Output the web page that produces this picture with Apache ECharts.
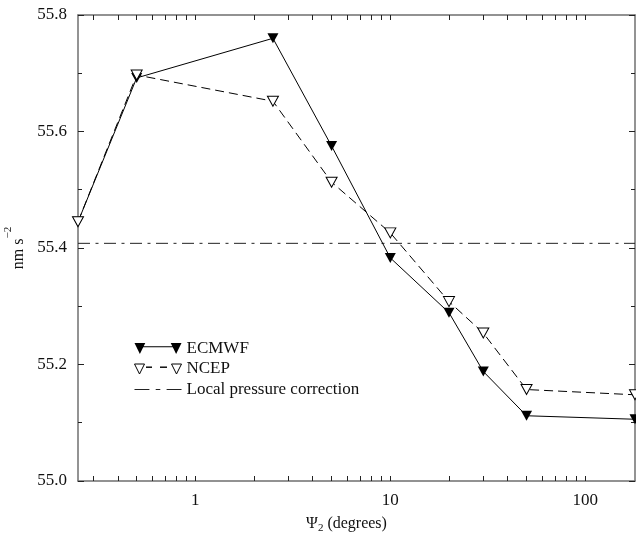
<!DOCTYPE html>
<html>
<head>
<meta charset="utf-8">
<script src="https://cdn.jsdelivr.net/npm/echarts@6/dist/echarts.min.js"></script>
<style>
  html, body { margin: 0; padding: 0; background: #fff; }
  #chart { width: 636px; height: 533px; }
</style>
</head>
<body>
<div id="chart"></div>
<script>
// angular distance (degrees) and the two reanalysis series, nm s^-2
const psi = [0.25, 0.5, 2.5, 5, 10, 20, 30, 50, 180];
const ecmwf = [55.445, 55.692, 55.760, 55.575, 55.383, 55.289, 55.188, 55.112, 55.106];
const ncep = [55.445, 55.697, 55.652, 55.513, 55.426, 55.308, 55.254, 55.157, 55.148];
const localCorrection = 55.408;
const xRange = [0.25, 180];
const xLabels = [1, 10, 100];
const xTicks = [0.3, 0.4, 0.5, 0.6, 0.7, 0.8, 0.9, 1, 2, 3, 4, 5, 6, 7, 8, 9, 10,
  20, 30, 40, 50, 60, 70, 80, 90, 100];

const FONT = '"Liberation Serif", "DejaVu Serif", serif';
const AXIS_GREY = '#6f6f6f';

const chart = echarts.init(document.getElementById('chart'), null, { renderer: 'canvas' });

function xAxisBase(showLabels) {
  return {
    type: 'log',
    logBase: 10,
    min: xRange[0],
    max: xRange[1],
    position: showLabels ? 'bottom' : 'top',
    axisLine: { show: true, onZero: false, lineStyle: { color: AXIS_GREY, width: 1.5 } },
    axisTick: { show: true, inside: true, length: 5, customValues: xTicks, lineStyle: { color: '#222', width: 1 } },
    axisLabel: {
      show: showLabels,
      customValues: xLabels,
      margin: 11,
      color: '#111',
      fontFamily: FONT,
      fontSize: 17
    },
    splitLine: { show: false },
    minorTick: { show: false }
  };
}

function yAxisBase(showLabels) {
  return {
    type: 'value',
    min: 55.0,
    max: 55.8,
    interval: 0.2,
    position: showLabels ? 'left' : 'right',
    axisLine: { show: true, lineStyle: { color: AXIS_GREY, width: 1.5 } },
    axisTick: { show: true, inside: true, length: 6, lineStyle: { color: '#222', width: 1 } },
    minorTick: { show: true, splitNumber: 2, length: 4, lineStyle: { color: '#222', width: 1 } },
    axisLabel: {
      show: showLabels,
      margin: 11,
      color: '#111',
      fontFamily: FONT,
      fontSize: 17,
      formatter: v => v.toFixed(1)
    },
    splitLine: { show: false }
  };
}

// gnuplot-style legend keys: marker - line - marker
const ecmwfIcon = 'path://M0 0 L11 0 L5.5 11 Z M5.5 3.2 L42.5 3.2 L42.5 4.2 L5.5 4.2 Z M37 0 L48 0 L42.5 11 Z';
const ncepIcon = 'path://M0.5 0.5 L10.5 0.5 L5.5 10.5 Z M12 3.7 L18 3.7 L18 3.71 L12 3.71 Z M26 3.7 L33 3.7 L33 3.71 L26 3.71 Z M37.5 0.5 L47.5 0.5 L42.5 10.5 Z';
const localIcon = 'path://M0 0 L13 0 L13 1 L0 1 Z M18.5 0 L22.5 0 L22.5 1 L18.5 1 Z M28 0 L41 0 L41 1 L28 1 Z';

const option = {
  backgroundColor: '#fff',
  animation: false,
  grid: { left: 78, right: 1, top: 15, bottom: 52, containLabel: false, outerBoundsMode: 'none' },
  xAxis: [
    Object.assign(xAxisBase(true), {
      name: '{a|Ψ}{s|2}{a| (degrees)}',
      nameLocation: 'middle',
      nameGap: 33,
      nameTextStyle: {
        padding: [0, 20, 0, 0],
        rich: {
          a: { fontFamily: FONT, fontSize: 16, color: '#111', lineHeight: 20 },
          s: { fontFamily: FONT, fontSize: 11, color: '#111', verticalAlign: 'bottom', lineHeight: 14 }
        }
      }
    }),
    xAxisBase(false)
  ],
  yAxis: [
    Object.assign(yAxisBase(true), {
      name: '{a|nm s}{b|−2}',
      nameLocation: 'middle',
      nameGap: 45,
      nameRotate: 90,
      nameTextStyle: {
        rich: {
          a: { fontFamily: FONT, fontSize: 16, color: '#111', lineHeight: 24, verticalAlign: 'bottom' },
          b: { fontFamily: FONT, fontSize: 11, color: '#111', lineHeight: 12, verticalAlign: 'top' }
        }
      }
    }),
    yAxisBase(false)
  ],
  legend: {
    orient: 'vertical',
    left: 134,
    top: 338.5,
    padding: 0,
    itemWidth: 47,
    itemHeight: 11,
    itemGap: 0.5,
    selectedMode: false,
    textStyle: { fontFamily: FONT, fontSize: 17, color: '#111', lineHeight: 20 },
    data: [
      { name: 'ECMWF', icon: ecmwfIcon, itemStyle: { color: '#000', borderWidth: 0 } },
      { name: 'NCEP', icon: ncepIcon, itemStyle: { color: '#fff', borderColor: '#000', borderWidth: 1 } },
      { name: 'Local pressure correction', icon: localIcon, itemStyle: { color: '#222', borderWidth: 0 } }
    ]
  },
  series: [
    {
      name: 'Local pressure correction',
      type: 'line',
      symbol: 'none',
      data: xRange.map(x => [x, localCorrection]),
      lineStyle: { color: '#222', width: 1, type: [12, 5.5, 3, 5.5] },
      itemStyle: { color: '#222' },
      z: 1
    },
    {
      name: 'ECMWF',
      type: 'line',
      data: psi.map((x, i) => [x, ecmwf[i]]),
      symbol: 'triangle',
      symbolRotate: 180,
      symbolSize: [11, 10],
      showAllSymbol: true,
      lineStyle: { color: '#000', width: 1 },
      itemStyle: { color: '#000', borderWidth: 0 },
      z: 2
    },
    {
      name: 'NCEP',
      type: 'line',
      data: psi.map((x, i) => [x, ncep[i]]),
      symbol: 'triangle',
      symbolRotate: 180,
      symbolSize: [11, 10],
      showAllSymbol: true,
      lineStyle: { color: '#000', width: 1, type: [9, 5] },
      itemStyle: { color: '#fff', borderColor: '#000', borderWidth: 1 },
      z: 3
    }
  ]
};

chart.setOption(option);
</script>
</body>
</html>
